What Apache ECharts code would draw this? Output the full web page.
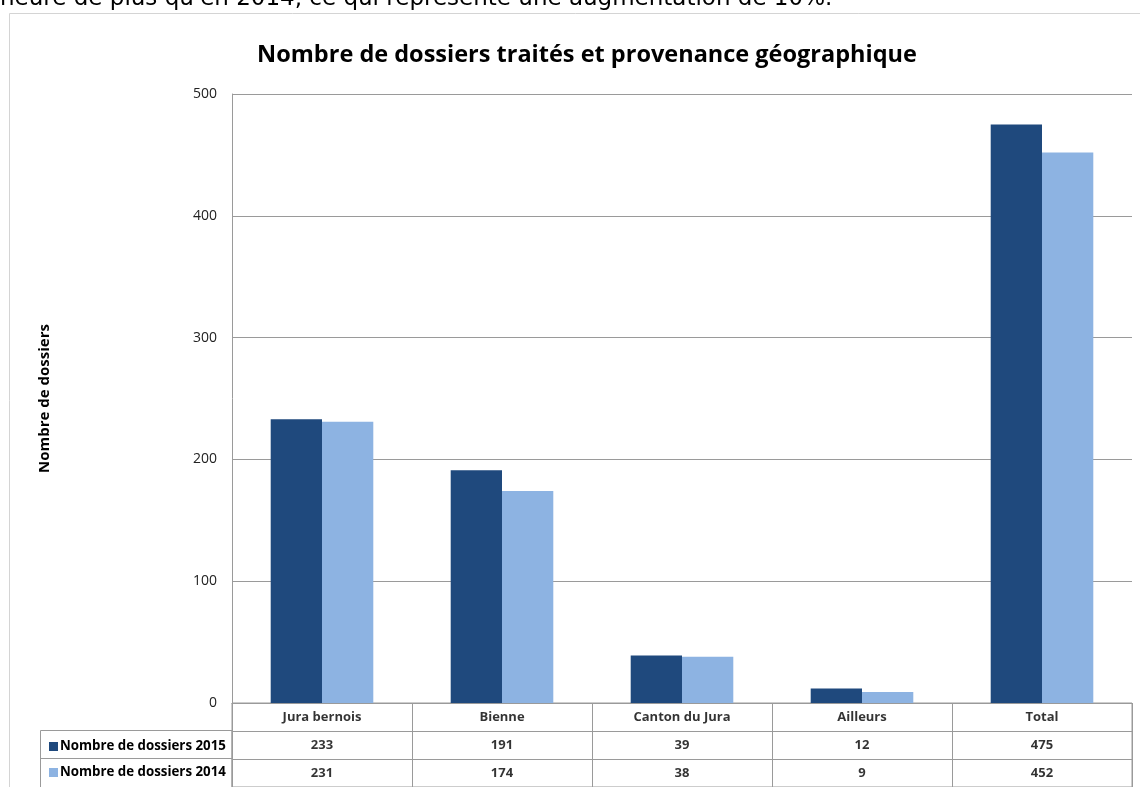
<!DOCTYPE html>
<html>
<head>
<meta charset="utf-8">
<script src="https://cdn.jsdelivr.net/npm/echarts@6/dist/echarts.min.js"></script>
<style>
  html, body { margin: 0; padding: 0; background: #fff; }
  #main { width: 1140px; height: 787px; }
</style>
</head>
<body>
<div id="main"></div>
<script>
// donnees
const categories = ['Jura bernois', 'Bienne', 'Canton du Jura', 'Ailleurs', 'Total'];
const dossiers2015 = [233, 191, 39, 12, 475];
const dossiers2014 = [231, 174, 38, 9, 452];
const seriesNames = ['Nombre de dossiers 2015', 'Nombre de dossiers 2014'];
const yTicks = [0, 100, 200, 300, 400, 500];

const FONT = '"Open Sans", Lato, sans-serif';
const dark = '#1f497d';
const light = '#8db3e2';
const lineGray = '#9a9a9a';

// cellules du tableau sous le graphique : [colonne, ligne, texte]
let tableCells = [];
for (let i = 0; i < categories.length; i++) {
    tableCells.push([i, 0, categories[i]]);
    tableCells.push([i, 1, String(dossiers2015[i])]);
    tableCells.push([i, 2, String(dossiers2014[i])]);
}

let chart = echarts.init(document.getElementById('main'), null, { renderer: 'canvas' });

let option = {
    backgroundColor: '#fff',
    animation: false,
    textStyle: { fontFamily: FONT },
    title: {
        text: 'Nombre de dossiers traités et provenance géographique',
        left: 582,
        textAlign: 'center',
        top: 38,
        textStyle: { fontFamily: FONT, fontSize: 23.5, fontWeight: 'bold', color: '#000' }
    },
    graphic: [
        {
            type: 'rect',
            shape: { x: 9.5, y: 13.5, width: 1140, height: 800 },
            style: { fill: null, stroke: '#d4d4d4', lineWidth: 1 },
            silent: true
        },
        {
            // phrase du texte au-dessus, coupee par le cadrage
            type: 'text',
            x: 0,
            y: -12,
            style: {
                text: "heure de plus qu'en 2014, ce qui représente une augmentation de 10%.",
                font: '23px "DejaVu Sans", sans-serif',
                fill: '#000',
                verticalAlign: 'top'
            },
            silent: true
        },
        {
            // cadre de la colonne legende
            type: 'rect',
            shape: { x: 40.5, y: 730.5, width: 191.5, height: 60 },
            style: { fill: null, stroke: lineGray, lineWidth: 1 },
            silent: true
        },
        {
            type: 'line',
            shape: { x1: 40.5, y1: 758.5, x2: 232, y2: 758.5 },
            style: { stroke: lineGray, lineWidth: 1 },
            silent: true
        }
    ],
    legend: {
        data: seriesNames,
        orient: 'vertical',
        left: 44,
        top: 735,
        itemGap: 13,
        itemWidth: 9,
        itemHeight: 9,
        icon: 'rect',
        textStyle: { fontFamily: FONT, fontSize: 13.3, fontWeight: 'bold', color: '#000', padding: [0, 0, 0, -3] },
        selectedMode: false
    },
    grid: [
        { left: 232, right: 8, top: 94, bottom: 84 },
        { left: 232, right: 8, top: 703, height: 84, show: true, borderColor: lineGray, borderWidth: 1 }
    ],
    xAxis: [
        {
            type: 'category',
            gridIndex: 0,
            data: categories,
            axisLine: { lineStyle: { color: lineGray } },
            axisTick: { show: false },
            axisLabel: { show: false }
        },
        {
            type: 'category',
            gridIndex: 1,
            data: categories,
            axisLine: { show: false },
            axisTick: { show: false },
            axisLabel: { show: false },
            splitLine: { show: true, lineStyle: { color: lineGray } }
        }
    ],
    yAxis: [
        {
            type: 'value',
            gridIndex: 0,
            min: yTicks[0],
            max: yTicks[yTicks.length - 1],
            interval: 100,
            name: 'Nombre de dossiers',
            nameLocation: 'middle',
            nameRotate: 90,
            nameGap: 180,
            nameTextStyle: { fontFamily: FONT, fontSize: 15, fontWeight: 'bold', color: '#000' },
            axisLine: { show: true, lineStyle: { color: lineGray } },
            axisTick: { show: false },
            axisLabel: { fontFamily: FONT, fontSize: 14, color: '#222', margin: 15 },
            splitLine: { lineStyle: { color: lineGray } }
        },
        {
            type: 'category',
            gridIndex: 1,
            data: ['cat', '2015', '2014'],
            inverse: true,
            axisLine: { show: false },
            axisTick: { show: false },
            axisLabel: { show: false },
            splitLine: { show: true, lineStyle: { color: lineGray } }
        }
    ],
    series: [
        {
            name: seriesNames[0],
            type: 'bar',
            xAxisIndex: 0,
            yAxisIndex: 0,
            data: dossiers2015,
            barGap: '0%',
            barCategoryGap: '43%',
            itemStyle: { color: dark }
        },
        {
            name: seriesNames[1],
            type: 'bar',
            xAxisIndex: 0,
            yAxisIndex: 0,
            data: dossiers2014,
            itemStyle: { color: light }
        },
        {
            name: 'tableau',
            type: 'scatter',
            xAxisIndex: 1,
            yAxisIndex: 1,
            symbolSize: 0,
            data: tableCells,
            label: {
                show: true,
                position: 'inside',
                formatter: p => p.value[2],
                fontFamily: FONT,
                fontSize: 13,
                fontWeight: 'bold',
                color: '#000'
            },
            silent: true
        }
    ]
};

chart.setOption(option);
</script>
</body>
</html>
